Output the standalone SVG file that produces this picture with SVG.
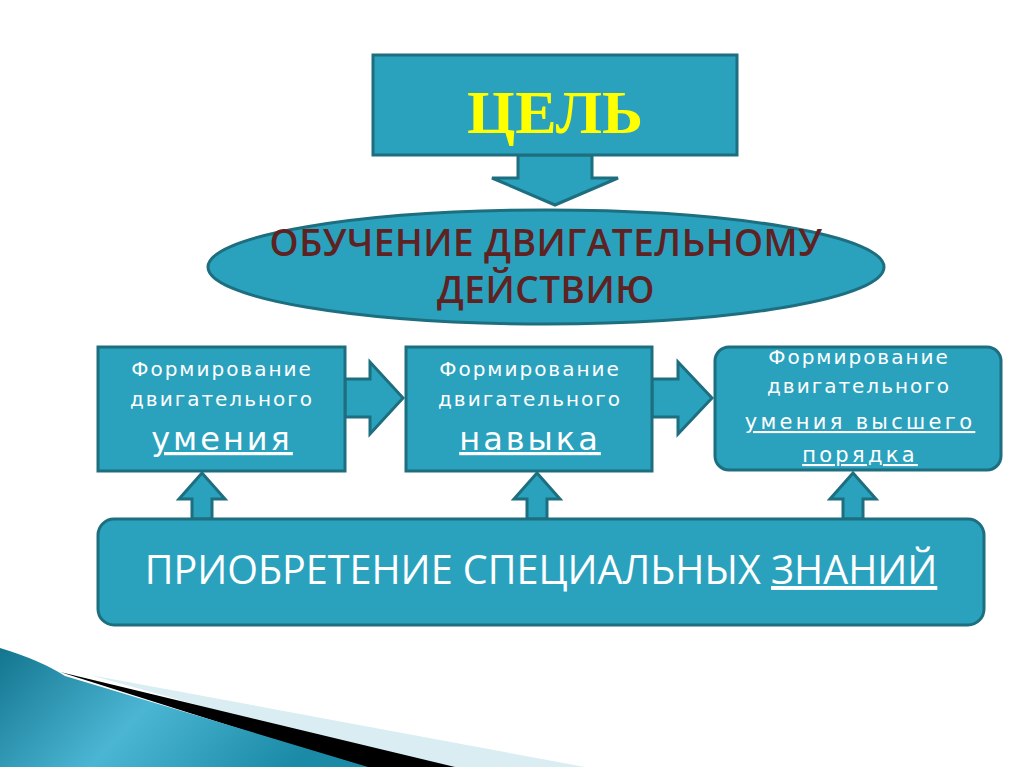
<svg xmlns="http://www.w3.org/2000/svg" width="1024" height="767" viewBox="0 0 1024 767">
<defs>
<style>
.n{fill:#2aa2be;stroke:#1d6e7f;stroke-width:3}
.w{fill:#fff;font-family:"DejaVu Sans","Open Sans",sans-serif;text-anchor:middle}
.s{font-size:20px;letter-spacing:2px}
.u{text-decoration:underline}
</style>
<linearGradient id="g" x1="0" y1="0" x2="1" y2="0.3">
<stop offset="0" stop-color="#13758f"/><stop offset="0.5" stop-color="#4bb6d4"/><stop offset="1" stop-color="#1a8aa6"/>
</linearGradient>
</defs>
<rect width="1024" height="767" fill="#fff"/>
<g id="decor">
<polygon points="90,675 585,767 420,767" fill="#d9edf2"/>
<polygon points="60,672 455,767 360,767" fill="#000"/>
<path d="M0,648 Q40,660 65,676 L368,767 L0,767 Z" fill="url(#g)"/>
</g>
<g id="connectors">
<polygon class="n" points="518,155 592,155 592,178 618,178 555,205 492,178 518,178"/>
<polygon class="n" points="345,379 370,379 370,362 403,398 370,434 370,417 345,417"/>
<polygon class="n" points="652,379 678,379 678,362 712,398 678,434 678,417 652,417"/>
<polygon class="n" points="192,519 192,499 179,499 202,473 225,499 212,499 212,519"/>
<polygon class="n" points="527,519 527,499 514,499 537,473 560,499 547,499 547,519"/>
<polygon class="n" points="843,519 843,499 830,499 853,473 876,499 863,499 863,519"/>
</g>
<g id="goal">
<rect class="n" x="373" y="55" width="364" height="100"/>
<text x="555" y="133" font-family="'Liberation Serif',serif" font-weight="bold" font-size="62" fill="#ffff00" text-anchor="middle">ЦЕЛЬ</text>
</g>
<g id="learning">
<ellipse class="n" cx="546" cy="267" rx="338" ry="57"/>
<g font-family="'Open Sans','DejaVu Sans',sans-serif" font-weight="600" font-size="37" text-anchor="middle" fill="#5e2222" letter-spacing="0.5">
<text x="546" y="256">ОБУЧЕНИЕ ДВИГАТЕЛЬНОМУ</text>
<text x="546" y="303">ДЕЙСТВИЮ</text>
</g>
</g>
<g id="skill1">
<rect class="n" x="98" y="347" width="247" height="124"/>
<text class="w s" x="222" y="376">Формирование</text>
<text class="w s" x="222" y="406">двигательного</text>
<text class="w u" x="222" y="450" font-size="32" letter-spacing="3">умения</text>
</g>
<g id="skill2">
<rect class="n" x="406" y="347" width="246" height="124"/>
<text class="w s" x="530" y="376">Формирование</text>
<text class="w s" x="530" y="406">двигательного</text>
<text class="w u" x="530" y="450" font-size="32" letter-spacing="3">навыка</text>
</g>
<g id="skill3">
<rect class="n" x="715" y="347" width="286" height="123" rx="14"/>
<text class="w s" x="859" y="364">Формирование</text>
<text class="w s" x="859" y="393">двигательного</text>
<text class="w u" x="860" y="429" font-size="21" letter-spacing="3.3">умения высшего</text>
<text class="w u" x="860" y="462" font-size="21" letter-spacing="3.3">порядка</text>
</g>
<g id="knowledge">
<rect class="n" x="98" y="519" width="886" height="106" rx="16"/>
<text x="541" y="584" font-family="'Open Sans','DejaVu Sans',sans-serif" font-size="39.5" fill="#fff" text-anchor="middle">ПРИОБРЕТЕНИЕ СПЕЦИАЛЬНЫХ <tspan class="u">ЗНАНИЙ</tspan></text>
</g>
</svg>
